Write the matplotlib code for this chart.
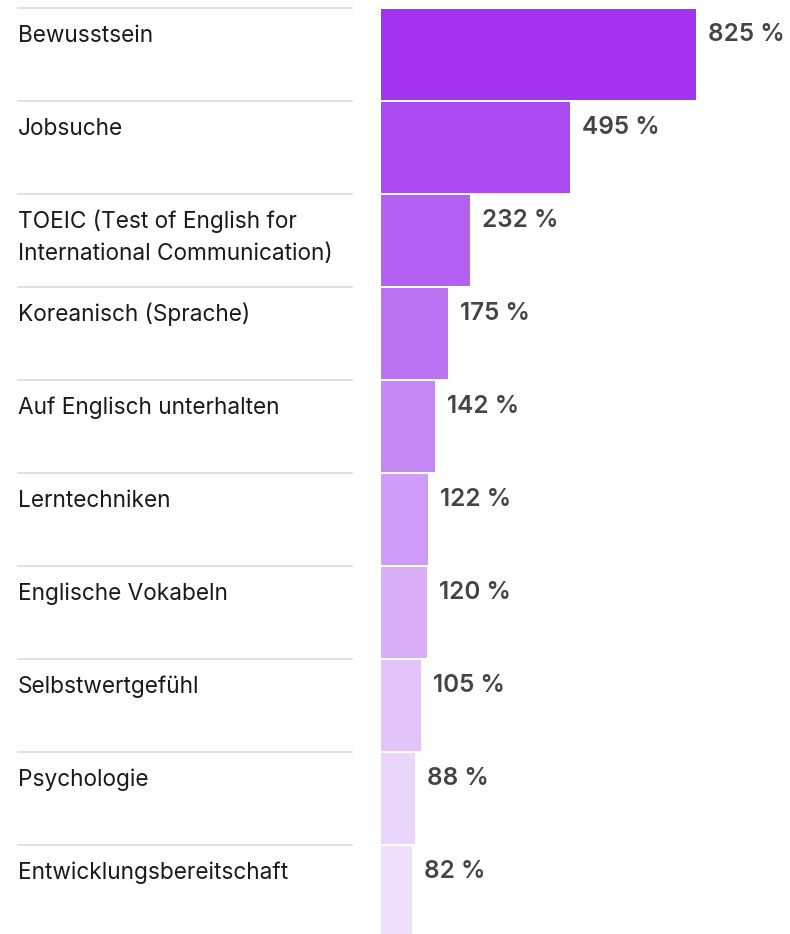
import matplotlib.pyplot as plt

labels = [
    "Bewusstsein",
    "Jobsuche",
    "TOEIC (Test of English for\nInternational Communication)",
    "Koreanisch (Sprache)",
    "Auf Englisch unterhalten",
    "Lerntechniken",
    "Englische Vokabeln",
    "Selbstwertgefühl",
    "Psychologie",
    "Entwicklungsbereitschaft",
]
values = [825, 495, 232, 175, 142, 122, 120, 105, 88, 82]
colors = ["#a333ee", "#ab4bf1", "#b460f2", "#bb72f3", "#c688f5",
          "#cf9cf7", "#d9b0f8", "#e2c4fa", "#ebd6fb", "#f0e0fc"]

plt.rcParams["font.family"] = ["Inter", "DejaVu Sans"]

W, H = 790, 934
fig = plt.figure(figsize=(W / 100, H / 100), dpi=100)

# row geometry in pixels
pitch = 93
top0 = 8

# full-figure axes for labels and separators, pixel coords
bg = fig.add_axes([0, 0, 1, 1])
bg.set_xlim(0, W)
bg.set_ylim(H, 0)
bg.axis("off")

# bar axes
x0 = 381
ax = fig.add_axes([x0 / W, 0, (W - x0) / W, 1])
ax.set_ylim(H, 0)
scale = 315 / 825  # px per percent
ax.set_xlim(0, (W - x0) / scale)
ax.axis("off")

for i, (lab, v, c) in enumerate(zip(labels, values, colors)):
    top = top0 + pitch * i
    bg.plot([18, 352], [top, top], color="#dcdcdc", lw=1.2)
    for k, line in enumerate(lab.split("\n")):
        bg.text(18, top + 34 + 32 * k, line, fontsize=16.3, color="#1a1a1a",
                va="baseline", ha="left")
    ax.barh(top + 1 + 45, v, height=91, left=0, color=c, linewidth=0)
    ax.text(v + 12 / scale, top + 33, f"{v} %", fontsize=17.5, color="#444444",
            fontweight="semibold", va="baseline", ha="left")

fig.savefig("out.png", dpi=100)
